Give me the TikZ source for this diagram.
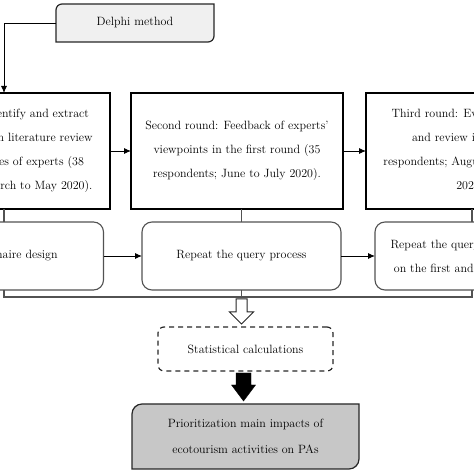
\documentclass[tikz,border=0pt]{standalone}
\usepackage{tikz}
\usetikzlibrary{calc,backgrounds}
\usetikzlibrary{positioning,arrows.meta,calc}
\usepackage{xcolor}

\definecolor{delphigray}{gray}{0.94}
\definecolor{prioritygray}{gray}{0.78}
\definecolor{framegray}{gray}{0.32}

% box with only the top left and bottom right corners rounded
\newcommand{\cutbox}[3]{%
  \draw[#3] (#1.south west) -- ([yshift=-#2]#1.north west)
    arc[start angle=180,end angle=90,radius=#2] -- (#1.north east)
    -- ([yshift=#2]#1.south east) arc[start angle=0,end angle=-90,radius=#2] -- cycle;}

% block arrow from #2 (top middle) down to #3 (tip), uses \sw, \hw, \hl
\newcommand{\blockarrow}[3]{%
  \draw[#1] ($(#2)+(-\sw,0)$) -- ($(#3)+(-\sw,\hl)$) -- ($(#3)+(-\hw,\hl)$) -- (#3)
    -- ($(#3)+(\hw,\hl)$) -- ($(#3)+(\sw,\hl)$) -- ($(#2)+(\sw,0)$) -- cycle;}

\begin{document}
\begin{tikzpicture}[x=1pt,y=1pt,
  txt/.style={align=center,inner sep=0pt,outer sep=0pt,font=\fontsize{12}{24}\selectfont},
  roundbox/.style={txt,draw=black,line width=1.3pt,minimum width=212pt,minimum height=116pt},
  querybox/.style={txt,draw=framegray,line width=1.1pt,rounded corners=10pt,minimum width=199pt,minimum height=68pt},
  flow/.style={line width=0.9pt,-{Latex[length=7pt,width=6pt]}},
  link/.style={draw=framegray,line width=1.2pt}]

\useasboundingbox (0,0) rectangle (474,474);
\clip (0,0) rectangle (474,474);

% Start of the process
\node[txt,minimum width=158pt,minimum height=38pt] (delphi) at (135,451) {Delphi method};
\begin{scope}[on background layer]
  \cutbox{delphi}{6pt}{draw=black!85,line width=1.2pt,fill=delphigray}
\end{scope}

% The three rounds
\node[roundbox] (r1) at (4,323) {First round: Identify and extract\\ impacts based on literature review\\ and perspectives of experts (38\\ respondents; March to May 2020).};
\node[roundbox] (r2) at (237,323) {Second round: Feedback of experts'\\ viewpoints in the first round (35\\ respondents; June to July 2020).};
\node[roundbox] (r3) at (472,323) {Third round: Evaluation of the\\ and review impacts (32\\ respondents; August to September\\ 2020).};

% Query boxes under the rounds
\node[querybox] (q1) at (4,218) {Questionnaire design};
\node[querybox] (q2) at (241.5,218) {Repeat the query process};
\node[querybox,minimum width=194pt] (q3) at (472,218) {Repeat the query process based\\ on the first and second rounds};

\draw[flow] (delphi.west) -| (r1.north);
\foreach \a/\b in {r1/r2,r2/r3,q1/q2,q2/q3} {
  \draw[flow] (\a.east) -- (\b.west);
}
\foreach \i in {1,2,3} {
  \draw[link] (q\i.north) -- (q\i.north |- r\i.south);
}

% Bracket that joins the query boxes
\coordinate (brk) at ($(q2.south)+(0,-7)$);
\draw[link] (q1.south) |- (brk) -| (q3.south);
\draw[link] (q2.south) -- (brk);

% Calculations and result
\node[txt,draw=black!85,line width=1.2pt,dashed,dash pattern=on 5pt off 4pt,rounded corners=6pt,
  minimum width=175pt,minimum height=44pt] (stats) at (245.5,125) {Statistical calculations};
\node[txt,font=\fontsize{12}{26}\selectfont,minimum width=227pt,minimum height=65pt] (prior) at (245.5,37.5)
  {Prioritization main impacts of\\ ecotourism activities on PAs};
\begin{scope}[on background layer]
  \cutbox{prior}{10pt}{draw=black!85,line width=1.2pt,fill=prioritygray}
\end{scope}

\coordinate (wtop) at ($(brk)+(0,-2)$);
\coordinate (wtip) at ($(brk |- stats.north)+(0,3)$);
\def\sw{5.5} \def\hw{12} \def\hl{12}
\blockarrow{draw=black!85,line width=1pt,fill=white}{wtop}{wtip}
\coordinate (btop) at ($(stats.south)+(-2,-2)$);
\coordinate (btip) at ($(prior.north)+(-2,3)$);
\def\sw{7.5} \def\hw{12} \def\hl{16}
\blockarrow{fill=black}{btop}{btip}
\end{tikzpicture}
\end{document}
